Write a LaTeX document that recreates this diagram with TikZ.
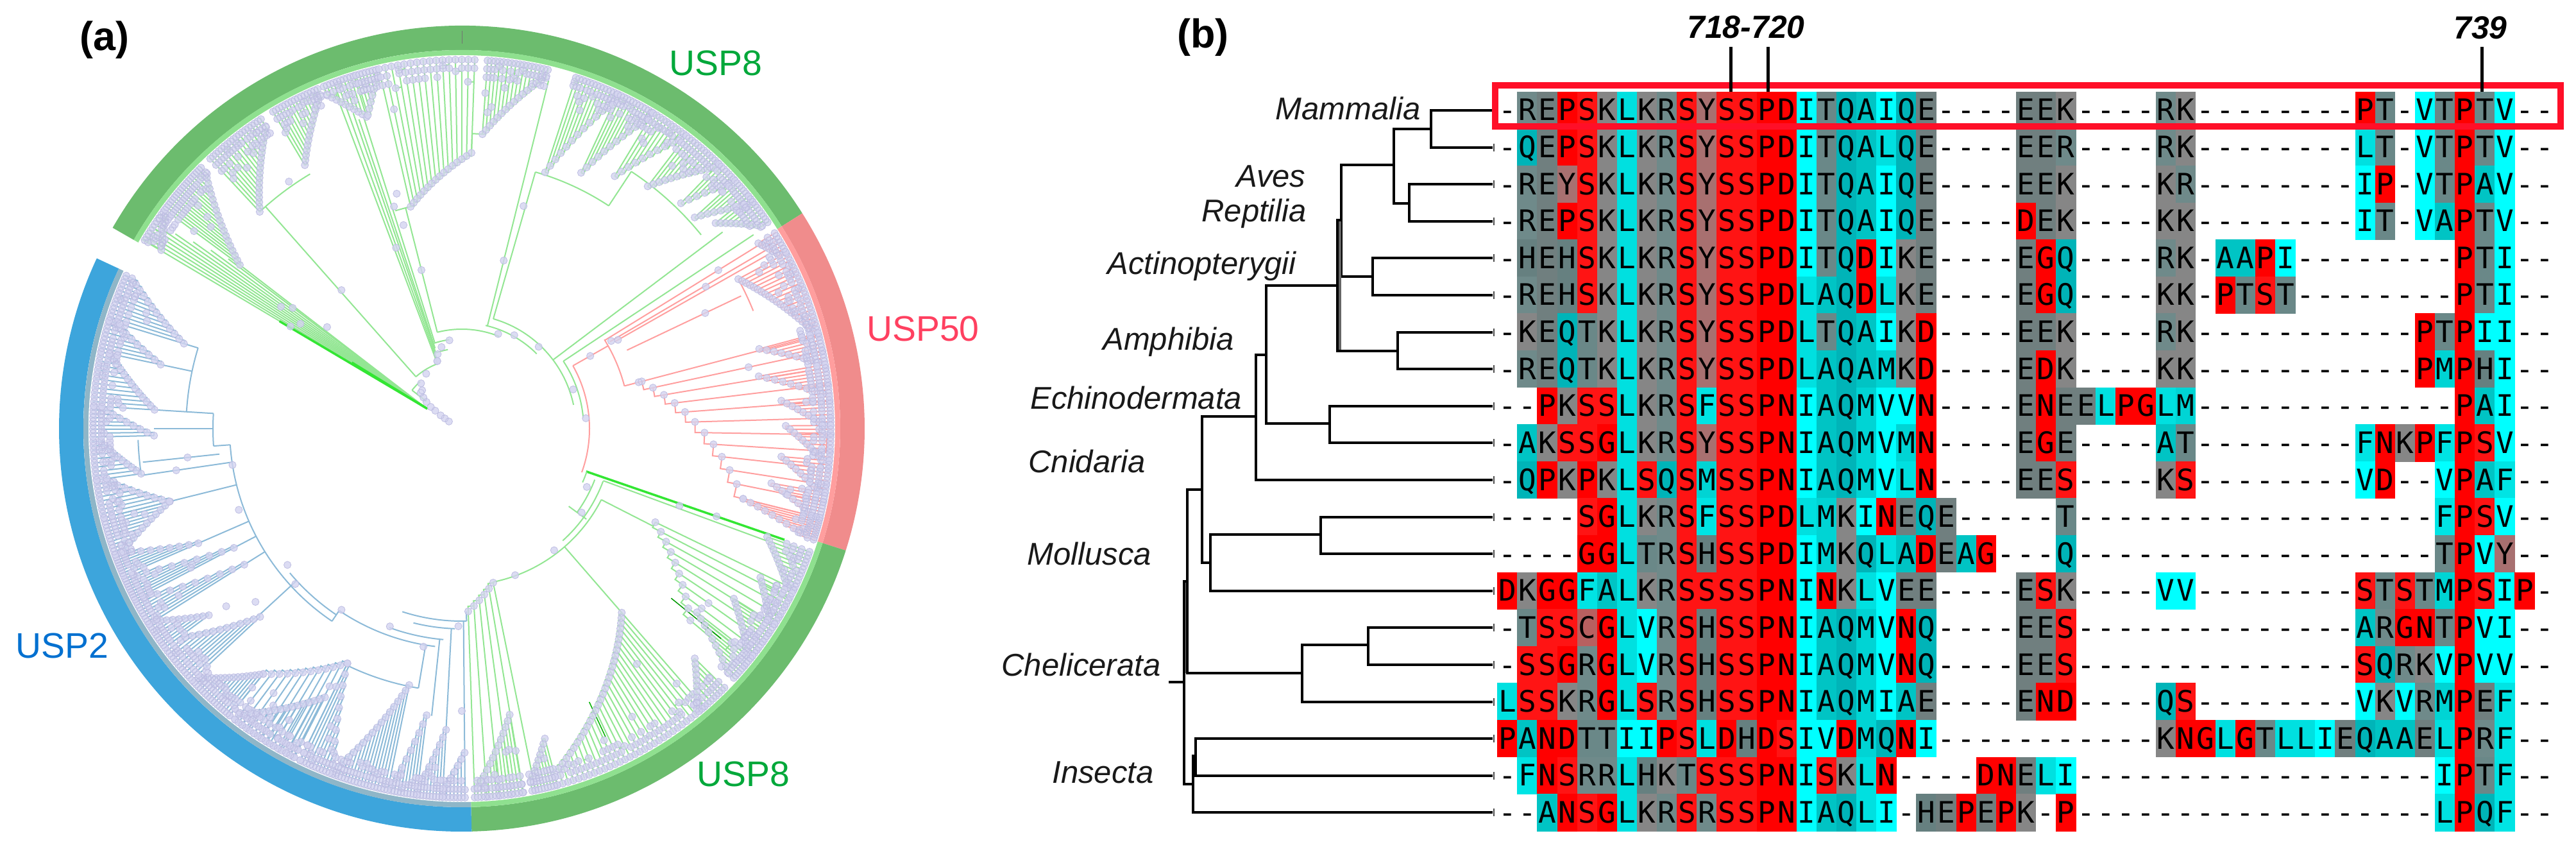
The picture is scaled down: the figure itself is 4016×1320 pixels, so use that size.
\documentclass[tikz,border=0pt]{standalone}
\usepackage{fontspec}
\setmainfont{Liberation Sans}
\newfontfamily\monof{DejaVu Sans Mono}
\definecolor{clP}{HTML}{FF0000}\definecolor{clS}{HTML}{FF1414}\definecolor{clG}{HTML}{FF0000}
\definecolor{clD}{HTML}{FF0000}\definecolor{clN}{HTML}{FF0000}
\definecolor{clK}{HTML}{868686}\definecolor{clR}{HTML}{6F8A8A}\definecolor{clE}{HTML}{707F7F}
\definecolor{clT}{HTML}{6A8888}\definecolor{clH}{HTML}{668080}
\definecolor{clQ}{HTML}{00B4B8}\definecolor{clA}{HTML}{00C4C4}\definecolor{clL}{HTML}{00E0E0}
\definecolor{clI}{HTML}{00FFFF}\definecolor{clV}{HTML}{00FFFF}\definecolor{clF}{HTML}{00E4E4}
\definecolor{clM}{HTML}{00D4D4}\definecolor{clY}{HTML}{A87070}\definecolor{clC}{HTML}{B86060}
\definecolor{gring}{HTML}{6CBC6E}\definecolor{gband}{HTML}{8FE08F}
\definecolor{rring}{HTML}{F08C8C}\definecolor{rband}{HTML}{FF9E9E}
\definecolor{bring}{HTML}{3DA5DC}\definecolor{bband}{HTML}{8FB6C8}
\definecolor{gline}{HTML}{93E693}\definecolor{rline}{HTML}{FF9F9F}\definecolor{bline}{HTML}{8CBAD8}
\definecolor{dfill}{HTML}{D4D4F0}\definecolor{dedge}{HTML}{BEBEE2}
\tikzset{
  gb/.style={draw=gline,line width=0.4mm},
  gbd/.style={draw=black!10!green!65!gline,line width=0.7mm},
  rb/.style={draw=rline,line width=0.4mm},
  bb/.style={draw=bline,line width=0.4mm},
  dotst/.style={fill=dfill,draw=dedge,line width=0.16mm,fill opacity=0.8},
  tl/.style={draw=black,line width=0.8mm,line join=miter},
  lett/.style={anchor=base,inner sep=0pt,font=\monof\fontsize{26.2}{28}\selectfont},
  taxon/.style={anchor=base west,inner sep=0pt,font=\itshape\fontsize{27.9}{30}\selectfont,text=black!90},
  usp/.style={anchor=base west,inner sep=0pt,font=\fontsize{31.5}{34}\selectfont},
  panel/.style={anchor=base west,inner sep=0pt,font=\bfseries\fontsize{35.8}{38}\selectfont},
  poslab/.style={anchor=base west,inner sep=0pt,font=\bfseries\itshape\fontsize{28.4}{30}\selectfont}
}
\newcommand\ringseg[5]{\fill[#1] (#2:#4) arc[start angle=#2,end angle=#3,radius=#4*0.2mm] -- (#3:#5) arc[start angle=#3,end angle=#2,radius=#5*0.2mm] -- cycle;}
\newcommand\bR[4]{\draw[#1] (#2:#3) -- (#2:#4);}
\newcommand\bA[4]{\draw[#1] (#3:#2) arc[start angle=#3,end angle=#4,radius=#2*0.2mm];}
\gdef\dotacc{}
\newcount\dotgrp
\newcommand\ndot[2]{\xdef\dotacc{\dotacc (#1:#2) circle[radius=1.12mm]}}
\newcommand\dotstore{\global\advance\dotgrp by 1
  \expandafter\xdef\csname dg\the\dotgrp\endcsname{\dotacc}\gdef\dotacc{}}
\newcommand\clade[6]{%
  \pgfmathtruncatemacro\cN{ceil(#6*1.5)}%
  \foreach \i in {0,...,\cN}{%
    \pgfmathsetmacro\cA{#2+(#3-#2)*\i/\cN}%
    \pgfmathsetmacro\cR{#4+(#5-#4)*\i/\cN}%
    \pgfmathsetmacro\cB{#2+(#3-#2)*(\i+1)/\cN}%
    \pgfmathsetmacro\cS{#4+(#5-#4)*(\i+1)/\cN}%
    \pgfmathsetmacro\cM{\cR+(578-\cR)*(0.2+0.5*rnd)}%
    \pgfmathsetmacro\cX{rnd}%
    \pgfmathsetmacro\cY{max(\cR,535+35*rnd)}%
    \draw[#1] (\cA:\cR) -- (\cA:578);%
    \ifnum\i<\cN\relax
      \draw[#1] (\cA:\cR) arc[start angle=\cA,end angle=\cB,radius=\cR*0.2mm] -- (\cB:\cS);%
      \ifdim\cX pt<0.35pt
        \draw[#1] (\cA:\cY) arc[start angle=\cA,end angle=\cB,radius=\cY*0.2mm];%
        \ndot{\cA}{\cY}%
      \fi
    \fi
    \ndot{\cA}{\cR}\ndot{\cA}{575}%
    \ifdim\cX pt>0.2pt \ndot{\cA}{562}\fi
    \ifdim\cX pt>0.55pt \ndot{\cA}{549}\fi
    \ifdim\cX pt>0.85pt \ndot{\cA}{\cM}\fi
  }%
  \dotstore
}
\newcount\colcnt
\def\fillscan#1{\ifx#1\relax\else
  \ifx#1-\else
    \fill[fill=cl#1] (2350+31.1*\the\colcnt-15.8,\ry-29.2) rectangle (2350+31.1*\the\colcnt+15.8,\ry+29.2);%
  \fi
  \advance\colcnt by 1
  \expandafter\fillscan\fi}
\def\textscan#1{\ifx#1\relax\else
  \node[lett] (c\r x\the\colcnt) at (2350+31.1*\the\colcnt,\ry+16) {#1};%
  \advance\colcnt by 1
  \expandafter\textscan\fi}
\def\seqs{1/-REPSKLKRSYSSPDITQAIQE----EEK----RK--------PT-VTPTV--,
2/-QEPSKLKRSYSSPDITQALQE----EER----RK--------LT-VTPTV--,
3/-REYSKLKRSYSSPDITQAIQE----EEK----KR--------IP-VTPAV--,
4/-REPSKLKRSYSSPDITQAIQE----DEK----KK--------IT-VAPTV--,
5/-HEHSKLKRSYSSPDITQDIKE----EGQ----RK-AAPI--------PTI--,
6/-REHSKLKRSYSSPDLAQDLKE----EGQ----KK-PTST--------PTI--,
7/-KEQTKLKRSYSSPDLTQAIKD----EEK----RK-----------PTPII--,
8/-REQTKLKRSYSSPDLAQAMKD----EDK----KK-----------PMPHI--,
9/--PKSSLKRSFSSPNIAQMVVN----ENEELPGLM-------------PAI--,
10/-AKSSGLKRSYSSPNIAQMVMN----EGE----AT--------FNKPFPSV--,
11/-QPKPKLSQSMSSPNIAQMVLN----EES----KS--------VD--VPAF--,
12/----SGLKRSFSSPDLMKINEQE-----T------------------FPSV--,
13/----GGLTRSHSSPDIMKQLADEAG---Q------------------TPVY--,
14/DKGGFALKRSSSSPNINKLVEE----ESK----VV--------STSTMPSIP-,
15/-TSSCGLVRSHSSPNIAQMVNQ----EES--------------ARGNTPVI--,
16/-SSGRGLVRSHSSPNIAQMVNQ----EES--------------SQRKVPVV--,
17/LSSKRGLSRSHSSPNIAQMIAE----END----QS--------VKVRMPEF--,
18/PANDTTIIPSLDHDSIVDMQNI-----------KNGLGTLLIEQAAELPRF--,
19/-FNSRRLHKTSSSPNISKLN----DNELI------------------IPTF--,
20/--ANSGLKRSRSSPNIAQLI-HEPEPK-P------------------LPQF--}
\begin{document}
\begin{tikzpicture}[x=0.2mm,y=-0.2mm]
\useasboundingbox (0,0) rectangle (4016,1320);
\fill[white] (0,0) rectangle (4016,1320);
\pgfmathsetseed{4711}
%%% panel (a): circular tree
\begin{scope}[shift={(720,668)},y=0.2mm]
\ringseg{gring}{150.1}{32.3}{628}{590}
\ringseg{rring}{32.3}{-17.6}{628}{590}
\ringseg{gring}{-17.6}{-88.6}{628}{590}
\ringseg{bring}{-88.6}{-205}{628}{590}
\ringseg{gband}{150.1}{32.3}{590}{582}
\ringseg{rband}{32.3}{-17.6}{590}{582}
\ringseg{gband}{-17.6}{-88.6}{590}{582}
\ringseg{bband}{-88.6}{-205}{590}{582}
\bR{draw=black!55,line width=0.2mm}{90}{600}{620}
% green, upper skeleton
\foreach \a/\r in {149.4/580,148.8/578,148.2/575,147.6/575,147/570,146.4/560,145.8/540,145.2/510,144.6/480,144/450,143.6/431}{
  \draw[gb] (150:66) -- (\a:\r);
}
\draw[gbd] (150:62) -- (149.5:330);
\draw[gbd] (150:62) -- (149:200);
\foreach \a/\r in {144.5/324,143/263,149.2/311,146/340,147/300}{\ndot{\a}{\r}}
\clade{gb}{149.3}{144}{545}{570}{6}
\bA{gb}{98}{142.4}{131.5}
\bR{gb}{142.4}{70}{98}
\bR{gb}{131.5}{108}{462}
\bA{gb}{108}{131.5}{110}
\bR{gb}{110.6}{108}{560}
\bR{gb}{109.8}{118}{540}
\bR{gb}{109}{125}{520}
\bR{gb}{108.4}{132}{508}
\bR{gb}{107.5}{140}{508}
\bA{gb}{125}{110}{100}
\bA{gb}{140}{108}{98}
\bA{gb}{155}{104.3}{68}
\bR{gb}{104.3}{155}{355}
\bA{gb}{355}{107}{103}
\bA{gb}{165}{77}{45}
\bA{gb}{178}{74}{12}
\bA{gb}{190}{33.6}{5}
\bR{gb}{76}{165}{559}
\bR{gb}{74}{178}{416}
\bR{gb}{88}{430}{460}
\bA{gb}{460}{88}{86}
\bA{gb}{416}{74}{56.6}
\bR{gb}{56.6}{416}{480}
\bA{gb}{480}{56.6}{39}
\bR{gb}{33.6}{190}{546}
\bR{gb}{37}{178}{509}
\bA{gb}{462}{133}{120.8}
\foreach \a/\r in {131/286,125/470,104.3/255,106/330,105.5/380,107/362,74.5/360,76/270,110/300,98/139,104/131,108/122,110/112,69/158,60.7/167,46.8/175,19.4/184,4.8/194}{\ndot{\a}{\r}}
\clade{gb}{143.6}{135}{430}{565}{12}
\clade{gb}{133}{123}{462}{560}{11}
\clade{gb}{120.8}{113}{478}{565}{9}
\clade{gb}{112}{107}{560}{508}{6}
\clade{gb}{106.7}{103.4}{510}{565}{4}
\clade{gb}{103}{88}{355}{430}{10}
\clade{gb}{86}{76.5}{460}{565}{10}
\clade{gb}{72}{65}{420}{565}{8}
\clade{gb}{65}{59}{440}{565}{7}
\clade{gb}{58.8}{53}{460}{565}{6}
\clade{gb}{52.5}{46}{476}{565}{7}
\clade{gb}{45.8}{42.5}{490}{565}{4}
\clade{gb}{42.2}{38}{490}{565}{5}
\clade{gb}{39}{34}{509}{565}{6}
% red
\bA{rb}{199}{-20}{29.5}
\bR{rb}{29.5}{199}{262}
\bA{rb}{262}{32}{14.7}
\bR{rb}{31.7}{262}{550}
\bR{rb}{30.4}{268}{550}
\bR{rb}{29.6}{275}{550}
\bR{rb}{25.4}{285}{482}
\bA{rb}{490}{28.4}{22}
\bR{rb}{14.7}{262}{290}
\foreach \a/\r in {29.5/230,30.4/270,29.6/280,25.4/420,31.7/470,30.2/440,14.7/285}{\ndot{\a}{\r}}
\clade{rb}{14.7}{-14}{290}{452}{7}
\clade{rb}{28.4}{15.5}{490}{568}{13}
\clade{rb}{32}{28.6}{545}{565}{4}
\clade{rb}{15}{10.5}{480}{565}{5}
\clade{rb}{10}{5.5}{470}{565}{5}
\clade{rb}{5}{0.5}{500}{565}{5}
\clade{rb}{0.5}{-5}{505}{565}{6}
\clade{rb}{-5}{-10}{500}{565}{5}
\clade{rb}{-10}{-14}{490}{565}{5}
\clade{rb}{-14}{-17.5}{452}{565}{6}
% green, lower
\bR{gbd}{-19}{205}{532}
\bR{gb}{-20.2}{235}{505}
\bA{gb}{206}{-19}{-24}
\bA{gb}{222}{-21}{-36}
\bR{gb}{-36}{206}{240}
\bA{gb}{235}{-20.4}{-48}
\bA{gb}{244}{-27}{-78.5}
\bR{gb}{-27}{244}{335}
\bR{gb}{-49}{244}{380}
\foreach \a/\r in {-25/215,-35/228,-52.8/238,-70/243,-19/420,-19.5/360}{\ndot{\a}{\r}}
\clade{gb}{-25.8}{-40}{335}{465}{6}
\clade{gb}{-49}{-75}{380}{557}{20}
\clade{gb}{-78.5}{-88}{245}{285}{3}
\clade{gb}{-80.5}{-87.5}{452}{560}{8}
\clade{gb}{-75}{-79}{500}{560}{5}
\clade{gb}{-19.5}{-26}{505}{565}{7}
\clade{gb}{-26.5}{-32}{520}{565}{6}
\clade{gb}{-32}{-38}{500}{565}{7}
\clade{gb}{-38}{-42.5}{465}{565}{6}
\clade{gb}{-44.6}{-50}{510}{570}{6}
\draw[draw=green!60!black,line width=0.3mm] (-39:420) -- (-39:520);
\draw[draw=green!70!black,line width=0.3mm] (-65:470) -- (-65:530);
% blue
\bR{bb}{-88.6}{285}{300}
\bA{bb}{300}{-88.6}{-108}
\bA{bb}{312}{-92}{-104}
\bA{bb}{330}{-95}{-110}
\bA{bb}{342}{-97}{-124}
\bA{bb}{350}{-124}{-140}
\bA{bb}{362}{-124}{-176}
\bR{bb}{-124}{342}{362}
\bR{bb}{-89.5}{300}{505}
\bR{bb}{-93}{312}{470}
\bR{bb}{-96}{330}{450}
\bR{bb}{-99.5}{342}{410}
\bA{bb}{410}{-99.5}{-116}
\bR{bb}{-137.4}{350}{430}
\bR{bb}{-148}{362}{400}
\bR{bb}{-152.4}{362}{401}
\bR{bb}{-156.5}{362}{448}
\bR{bb}{-166}{362}{469}
\bR{bb}{-171.7}{362}{380}
\bR{bb}{-176}{362}{388}
\bA{bb}{388}{-176}{-183.5}
\bA{bb}{430}{-183.5}{-197}
\bR{bb}{-174}{380}{500}
\bR{bb}{-171.7}{380}{505}
\bA{bb}{505}{-171.7}{-178}
\foreach \a/\r in {-123.6/339,-100/345,-110/328,-91/308,-137/355,-142/345,-160/370,-171/362,-90/440,-140/420,-143/460,-174/430,-171.7/450}{\ndot{\a}{\r}}
\clade{bb}{-89.5}{-93}{505}{565}{4}
\clade{bb}{-93}{-97}{470}{565}{5}
\clade{bb}{-97}{-101}{450}{565}{5}
\clade{bb}{-101.6}{-110.6}{408}{570}{11}
\clade{bb}{-116}{-111}{407}{560}{6}
\clade{bb}{-116}{-129}{407}{492}{7}
\clade{bb}{-129}{-136.6}{492}{565}{10}
\clade{bb}{-117}{-128}{470}{565}{10}
\clade{bb}{-137}{-143}{430}{540}{7}
\clade{bb}{-143.6}{-148}{490}{565}{6}
\clade{bb}{-148}{-152}{400}{560}{5}
\clade{bb}{-152.4}{-156}{401}{560}{5}
\clade{bb}{-156.5}{-160}{448}{565}{5}
\clade{bb}{-166}{-160}{469}{565}{7}
\clade{bb}{-166}{-172}{470}{565}{6}
\clade{bb}{-172}{-178}{505}{565}{6}
\clade{bb}{-178.7}{-183.5}{480}{565}{5}
\clade{bb}{-183.5}{-192}{480}{560}{8}
\clade{bb}{-192}{-197}{480}{565}{5}
\clade{bb}{-197}{-204.5}{453}{565}{8}
\bR{bb}{-180}{388}{480}
\bR{bb}{-183.5}{388}{480}
\bR{bb}{-192}{430}{480}
\bR{bb}{-197}{430}{453}
\foreach \a/\r in {151/23,149/31,148/39,146/50,145/59,143/69,141/77,139/85,136/86,132/95,123/102,110/112}{\ndot{\a}{\r}}
\dotstore
\foreach \g in {1,...,\the\dotgrp}{
  \edef\flushdots{\noexpand\path[dotst] \csname dg\g\endcsname;}
  \flushdots
}
\end{scope}
\node[panel] (pa) at (124,79) {(a)};
\node[usp,text={rgb,255:red,0;green,168;blue,58}] (u8a) at (1043,118) {USP8};
\node[usp,text={rgb,255:red,255;green,64;blue,96}] (u50) at (1351,532) {USP50};
\node[usp,text={rgb,255:red,0;green,112;blue,208}] (u2) at (24,1025) {USP2};
\node[usp,text={rgb,255:red,0;green,168;blue,58}] (u8b) at (1086,1225) {USP8};
%%% panel (b)
\node[panel] (pb) at (1835,75) {(b)};
\foreach \r/\s in \seqs {
  \pgfmathsetmacro\ry{172+57.6*(\r-1)}
  \colcnt=0
  \expandafter\fillscan\s\relax
}
% cladogram
\draw[tl] (2327,172) -- (2231,172) -- (2231,229.6) -- (2327,229.6);
\draw[tl] (2231,201) -- (2173,201) -- (2173,317) -- (2197,317);
\draw[tl] (2327,287.2) -- (2197,287.2) -- (2197,344.8) -- (2327,344.8);
\draw[tl] (2173,257) -- (2091,257) -- (2091,431) -- (2140,431);
\draw[tl] (2327,402.4) -- (2140,402.4) -- (2140,460) -- (2327,460);
\fill[black!60] (2085,343) rectangle (2091,547);
\draw[tl] (2091,343) -- (2085,343) -- (2085,547) -- (2179,547);
\draw[tl] (2327,517.6) -- (2179,517.6) -- (2179,575.2) -- (2327,575.2);
\draw[tl] (2085,445) -- (1974,445) -- (1974,660) -- (2073,660);
\draw[tl] (2327,632.8) -- (2073,632.8) -- (2073,690.4) -- (2327,690.4);
\draw[tl] (1974,553) -- (1958,553) -- (1958,748) -- (2327,748);
\draw[tl] (1958,649) -- (1874,649) -- (1874,877) -- (1887,877);
\draw[tl] (2059,833) -- (1887,833) -- (1887,920.8) -- (2327,920.8);
\draw[tl] (2327,805.6) -- (2059,805.6) -- (2059,863.2) -- (2327,863.2);
\fill[black!50] (1846,906) rectangle (1851,1049);
\draw[tl] (1874,763) -- (1851,763) -- (1851,1049) -- (2030,1049);
\draw[tl] (2133,1005) -- (2030,1005) -- (2030,1093.6) -- (2327,1093.6);
\draw[tl] (2327,978.4) -- (2133,978.4) -- (2133,1036) -- (2327,1036);
\draw[tl] (1851,906) -- (1846,906) -- (1846,1222) -- (1860,1222);
\draw[tl] (1864,1178) -- (1860,1178) -- (1860,1266.4) -- (2327,1266.4);
\draw[tl] (2327,1151.2) -- (1864,1151.2) -- (1864,1208.8) -- (2327,1208.8);
\draw[tl] (1822,1063) -- (1846,1063);
\foreach \k in {2,...,20}{
  \pgfmathsetmacro\ty{172+57.6*(\k-1)}
  \draw[black!70,line width=0.5mm] (2329,\ty-6) -- (2329,\ty+6);
}
% letters
\foreach \r/\s in \seqs {
  \pgfmathsetmacro\ry{172+57.6*(\r-1)}
  \colcnt=0
  \expandafter\textscan\s\relax
}
% highlight
\draw[draw={rgb,255:red,255;green,15;blue,40},line width=2mm,line join=miter] (2331,133) rectangle (3992,197);
\draw[black,line width=1mm] (2698,73) -- (2698,143);
\draw[black,line width=1mm] (2756,73) -- (2756,143);
\draw[black,line width=1mm] (3869,73) -- (3869,143);
\node[poslab] (p718) at (2630,60) {718-720};
\node[poslab] (p739) at (3825,61) {739};
% taxa
\node[taxon] (t1) at (1988,187) {Mammalia};
\node[taxon] (t2) at (1927,292) {Aves};
\node[taxon] (t3) at (1873,346) {Reptilia};
\node[taxon] (t4) at (1726,428) {Actinopterygii};
\node[taxon] (t5) at (1719,546) {Amphibia};
\node[taxon] (t6) at (1606,637) {Echinodermata};
\node[taxon] (t7) at (1603,736) {Cnidaria};
\node[taxon] (t8) at (1601,880) {Mollusca};
\node[taxon] (t9) at (1561,1053) {Chelicerata};
\node[taxon] (t10) at (1640,1220) {Insecta};
\end{tikzpicture}
\end{document}
